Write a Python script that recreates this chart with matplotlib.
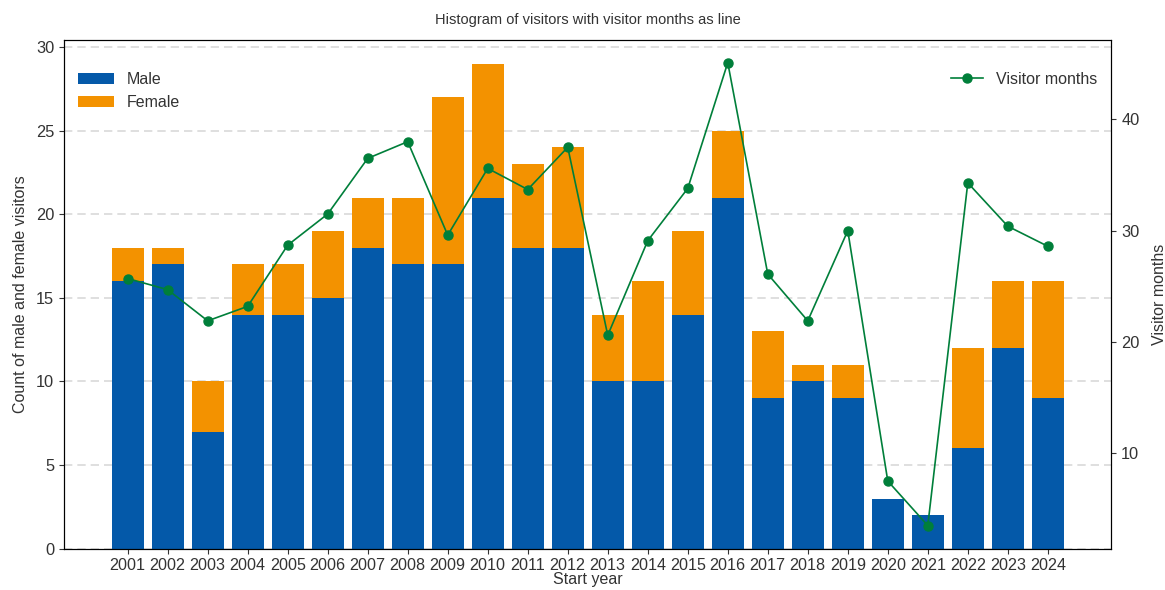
import matplotlib.pyplot as plt

years = list(range(2001, 2025))
male = [16, 17, 7, 14, 14, 15, 18, 17, 17, 21, 18, 18, 10, 10, 14, 21, 9, 10, 9, 3, 2, 6, 12, 9]
female = [2, 1, 3, 3, 3, 4, 3, 4, 10, 8, 5, 6, 4, 6, 5, 4, 4, 1, 2, 0, 0, 6, 4, 7]
visitor_months = [25.7, 24.7, 21.9, 23.2, 28.7, 31.5, 36.5, 38.0, 29.6, 35.6, 33.7, 37.5,
                  20.6, 29.1, 33.8, 45.1, 26.1, 21.9, 30.0, 7.5, 3.5, 34.3, 30.4, 28.6]

blue = "#0459a9"
orange = "#f39200"
green = "#007f3a"
text_col = "#333333"

plt.rcParams['font.family'] = ['Liberation Sans', 'DejaVu Sans']
plt.rcParams['text.color'] = text_col
plt.rcParams['axes.labelcolor'] = text_col
plt.rcParams['xtick.color'] = text_col
plt.rcParams['ytick.color'] = text_col

fig, ax = plt.subplots(figsize=(11.65, 5.9), dpi=100)
fig.subplots_adjust(left=0.055, right=0.954, bottom=0.07, top=0.933)

ax.bar(years, male, width=0.8, color=blue, label="Male", zorder=2)
ax.bar(years, female, width=0.8, bottom=male, color=orange, label="Female", zorder=2)
ax.set_xticks(years)
ax.set_xticklabels([str(y) for y in years], fontsize=11.6)
ax.tick_params(axis='y', labelsize=11.8)
ax.set_xlabel("Start year", fontsize=11.5, labelpad=-1)
ax.set_ylabel("Count of male and female visitors", fontsize=11.5, labelpad=6)
ax.yaxis.grid(True, linestyle=(0, (5, 3)), color="#d9d9d9", linewidth=1.2, zorder=0)
ax.set_axisbelow(True)
ax.legend(loc="upper left", frameon=False, fontsize=11.5, handlelength=2.2,
          bbox_to_anchor=(0.0, 0.965))

ax2 = ax.twinx()
ax2.plot(years, visitor_months, color=green, marker='o', markersize=6.5,
         linewidth=1.2, label="Visitor months")
ax2.set_ylabel("Visitor months", fontsize=11.5, labelpad=9)
ax2.tick_params(axis='y', labelsize=11.8)
ax2.legend(loc="upper right", frameon=False, fontsize=11.5, bbox_to_anchor=(1.0, 0.965))

ax.set_title("Histogram of visitors with visitor months as line", fontsize=10.5, pad=11)

plt.savefig("out.png", dpi=100)
